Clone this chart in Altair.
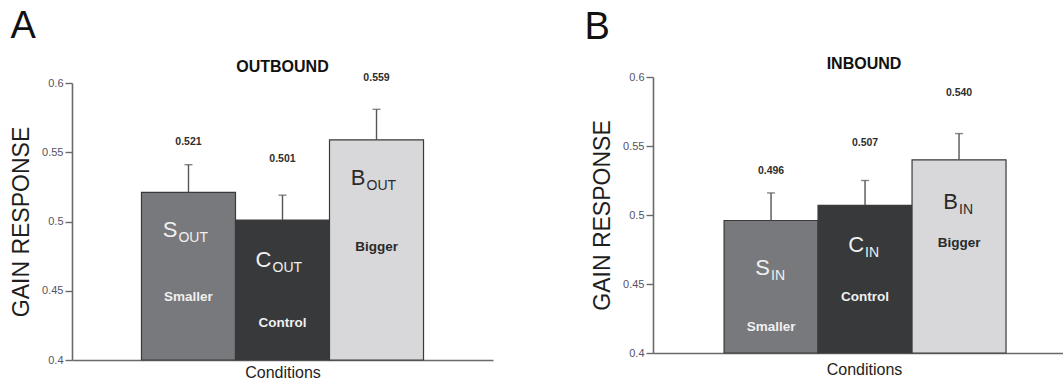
import altair as alt
import pandas as pd

# Condition names and bar styling
conditions = ["Smaller", "Control", "Bigger"]
letters = ["S", "C", "B"]
bar_colors = ["#78797c", "#37393b", "#d8d8da"]
ink_colors = ["#f0f0f0", "#f0f0f0", "#2a2a2a"]

# Mean gain responses and upper error limits
out_gain = [0.521, 0.501, 0.559]
out_err_top = [0.541, 0.519, 0.581]
in_gain = [0.496, 0.507, 0.540]
in_err_top = [0.516, 0.525, 0.559]

# Heights (gain units) of the annotations in each panel
out_value_y = [0.5574, 0.5451, 0.6036]
out_letter_y = [0.4939, 0.4722, 0.5314]
out_name_y = [0.4455, 0.4267, 0.4816]
in_value_y = [0.5321, 0.5524, 0.5886]
in_letter_y = [0.4616, 0.4783, 0.5094]
in_name_y = [0.4188, 0.4406, 0.4797]

y_ticks = [0.4, 0.45, 0.5, 0.55, 0.6]

SANS = "Liberation Sans"
AXIS_GREY = "#6a6a6a"


def panel(gain, err_top, value_y, letter_y, name_y, sub, heading, width, height,
          y_range, pad_outer, align, sub_dx, heading_dx, heading_offset, cond_x, cond_pad):
    df = pd.DataFrame({
        "condition": conditions,
        "letter": letters,
        "gain": gain,
        "err_top": err_top,
        "value_y": value_y,
        "letter_y": letter_y,
        "name_y": name_y,
        "ink": ink_colors,
        "base": [0.4] * 3,
    })
    base = alt.Chart(df)
    x_enc = alt.X(
        "condition:N",
        sort=conditions,
        scale=alt.Scale(paddingInner=0, paddingOuter=pad_outer, align=align),
        axis=alt.Axis(
            title="Conditions", labels=False, ticks=False,
            domainColor=AXIS_GREY, domainWidth=1.6,
            titleFont=SANS, titleFontSize=16, titleFontWeight="normal",
            titleColor="#1e1e1e", titlePadding=cond_pad, titleX=cond_x,
        ),
    )
    y_scale = alt.Scale(domain=[0.4, 0.6], nice=False, zero=False, range=y_range)
    y_axis = alt.Axis(
        values=y_ticks, format="~g", grid=False, title="GAIN RESPONSE",
        tickSize=7, tickColor=AXIS_GREY, tickWidth=1.4,
        domainColor=AXIS_GREY, domainWidth=1.6,
        labelFont=SANS, labelFontSize=11, labelColor="#545266", labelPadding=2,
        titleFont=SANS, titleFontSize=23, titleFontWeight="normal",
        titleColor="#1e1e1e", titlePadding=8,
    )

    bars = base.mark_bar(stroke="#3a3a3a", strokeWidth=1.2).encode(
        x=x_enc,
        y=alt.Y("gain:Q", scale=y_scale, axis=y_axis),
        y2="base:Q",
        color=alt.Color("condition:N", scale=alt.Scale(domain=conditions, range=bar_colors), legend=None),
    )
    whisker = base.mark_rule(color="#555555", strokeWidth=1.4).encode(
        x=alt.X("condition:N", sort=conditions),
        y="gain:Q",
        y2="err_top:Q",
    )
    cap = base.mark_tick(color="#555555", size=8, thickness=1.4).encode(
        x=alt.X("condition:N", sort=conditions),
        y="err_top:Q",
    )
    value_text = base.mark_text(
        font=SANS, fontSize=10.5, fontWeight="bold", color="#2e2e2e", baseline="middle"
    ).encode(
        x=alt.X("condition:N", sort=conditions),
        y="value_y:Q",
        text=alt.Text("gain:Q", format=".3f"),
    )
    letter_text = base.mark_text(
        font=SANS, fontSize=22, align="right", baseline="middle", dx=sub_dx
    ).encode(
        x=alt.X("condition:N", sort=conditions),
        y="letter_y:Q",
        text="letter:N",
        color=alt.Color("ink:N", scale=None),
    )
    sub_text = base.mark_text(
        font=SANS, fontSize=14, align="left", baseline="middle", dx=sub_dx + 1, dy=8
    ).encode(
        x=alt.X("condition:N", sort=conditions),
        y="letter_y:Q",
        text=alt.value(sub),
        color=alt.Color("ink:N", scale=None),
    )
    name_text = base.mark_text(
        font=SANS, fontSize=13.5, fontWeight="bold", baseline="middle"
    ).encode(
        x=alt.X("condition:N", sort=conditions),
        y="name_y:Q",
        text="condition:N",
        color=alt.Color("ink:N", scale=None),
    )
    return alt.layer(bars, whisker, cap, value_text, letter_text, sub_text, name_text).properties(
        width=width,
        height=height,
        title=alt.TitleParams(
            heading, frame="group", anchor="middle", font=SANS, fontSize=16,
            fontWeight="bold", color="#111111", offset=heading_offset, dx=heading_dx,
        ),
    )


# Panel A: plot 421 x 277; panel B sits 6 px higher, so its value range starts above the group top
panel_a = panel(out_gain, out_err_top, out_value_y, out_letter_y, out_name_y, "OUT",
                "OUTBOUND", 421, 277, [277, 0], 0.739, 0.5, -11, 0, -2, 210.5, 4)
panel_b = panel(in_gain, in_err_top, in_value_y, in_letter_y, in_name_y, "IN",
                "INBOUND", 410, 270, [270, -6], 0.681, 0.555, -1, 6, -1, 211, 8)

wrap_a = alt.vconcat(panel_a, title=alt.TitleParams(
    "A", anchor="start", font=SANS, fontSize=38, fontWeight="normal",
    color="#111111", offset=13))
wrap_b = alt.vconcat(panel_b, title=alt.TitleParams(
    "B", anchor="start", font=SANS, fontSize=38, fontWeight="normal",
    color="#111111", offset=9, dx=-7))

chart = alt.hconcat(wrap_a, wrap_b, spacing=91).properties(
    padding={"left": 10, "top": 8, "right": 0, "bottom": 0},
).configure_view(stroke=None)

chart.save("out.html", embed_options={"renderer": "svg", "actions": False})
